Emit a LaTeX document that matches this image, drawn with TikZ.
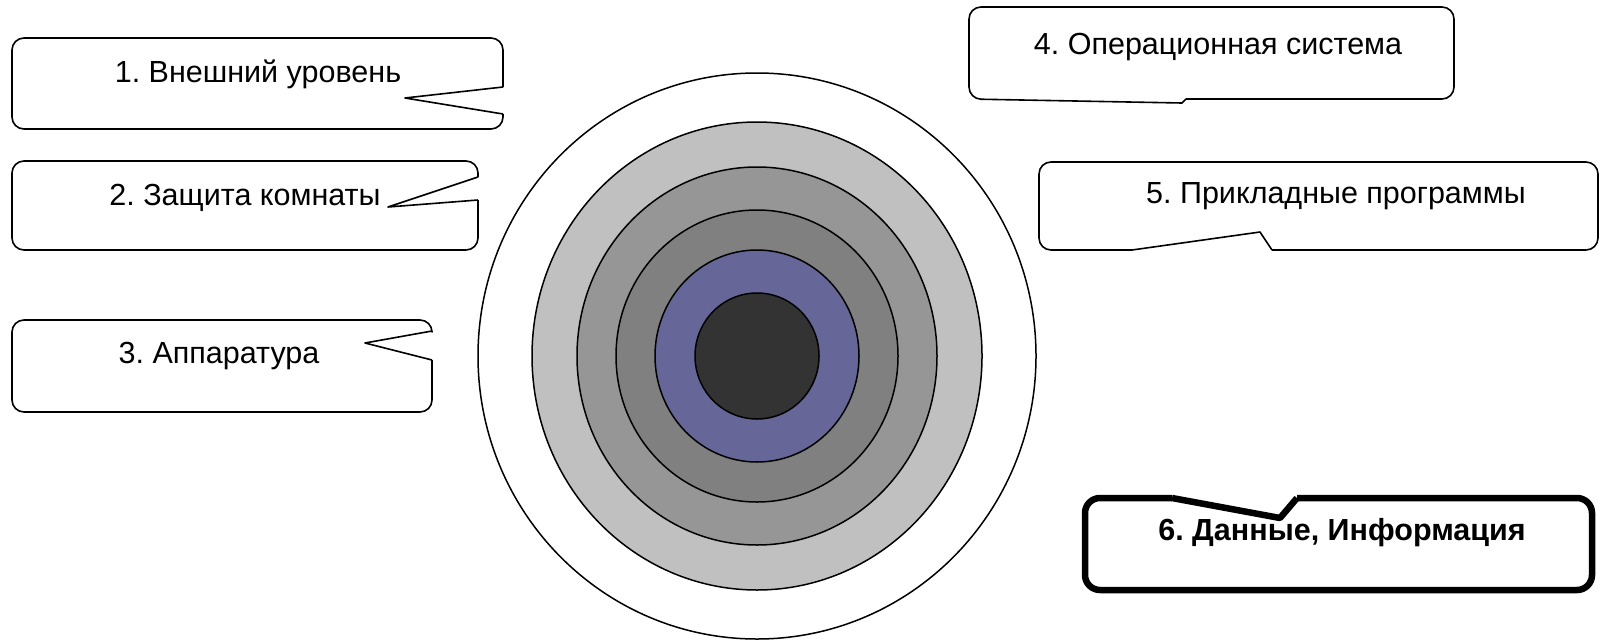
\documentclass[tikz,border=0pt]{standalone}
\usepackage{fontspec}
\setmainfont{Liberation Sans}
\usepackage{tikz}
\definecolor{RingLight}{RGB}{192,192,192}
\definecolor{RingMid}{RGB}{150,150,150}
\definecolor{RingGrey}{RGB}{128,128,128}
\definecolor{RingBlue}{RGB}{102,102,153}
\definecolor{CoreDark}{RGB}{51,51,51}
\tikzset{
  ring/.style={draw=black, line width=1.5pt},
  bubble/.style={draw=black, line width=1.6pt, rounded corners=12pt, line join=round},
  bubbletext/.style={font=\fontsize{30.5}{36}\selectfont, inner sep=0pt, anchor=base}
}
\frenchspacing

\begin{document}
\begin{tikzpicture}[x=1pt, y=-1pt]
  \useasboundingbox (0,0) rectangle (1602,640);

  % rings, outside in
  \foreach \rx/\ry/\col in {279/283/white, 225/234/RingLight, 180/189/RingMid,
                           141/146/RingGrey, 102/106/RingBlue, 62/63/CoreDark}
    \draw[ring, fill=\col] (757,356) ellipse [x radius=\rx, y radius=\ry];

  % callouts
  \draw[bubble] (503,114) -- (503,129) -- (12,129) -- (12,38) -- (503,38) -- (503,87);
  \draw[bubble, sharp corners] (503,87) -- (405,98) -- (503,114);

  \draw[bubble] (478,200) -- (478,250) -- (12,250) -- (12,161) -- (478,161) -- (478,177);
  \draw[bubble, sharp corners] (478,177) -- (388,207) -- (478,200);

  \draw[bubble] (432,360) -- (432,412) -- (12,412) -- (12,320) -- (432,320) -- (432,331);
  \draw[bubble, sharp corners] (432,331) -- (365,343) -- (432,360);

  \draw[bubble] (1186,99) -- (1454,99) -- (1454,7) -- (969,7) -- (969,99) -- (995,99.5);
  \draw[bubble, sharp corners] (995,99.5) -- (1182,103) -- (1186,99);

  \draw[bubble] (1272,250) -- (1598,250) -- (1598,162) -- (1039,162) -- (1039,250) -- (1132,250);
  \draw[bubble, sharp corners] (1132,250) -- (1260,232) -- (1272,250);

  \draw[bubble, line width=6.5pt, rounded corners=15pt] (1297,498) -- (1592,498) -- (1592,590)
    -- (1085,590) -- (1085,498) -- (1172,498);
  \draw[bubble, line width=6.5pt, sharp corners] (1172,498) -- (1280,518) -- (1297,498);

  \node[bubbletext] (outer) at (258,82) {1. Внешний уровень};
  \node[bubbletext] (room) at (245,205) {2. Защита комнаты};
  \node[bubbletext] (hardware) at (219,363) {3. Аппаратура};
  \node[bubbletext] (os) at (1218,54) {4. Операционная система};
  \node[bubbletext] (apps) at (1336,203) {5. Прикладные программы};
  \node[bubbletext, font=\fontsize{30.5}{36}\selectfont\bfseries] (data) at (1342,540) {6. Данные, Информация};
\end{tikzpicture}
\end{document}
